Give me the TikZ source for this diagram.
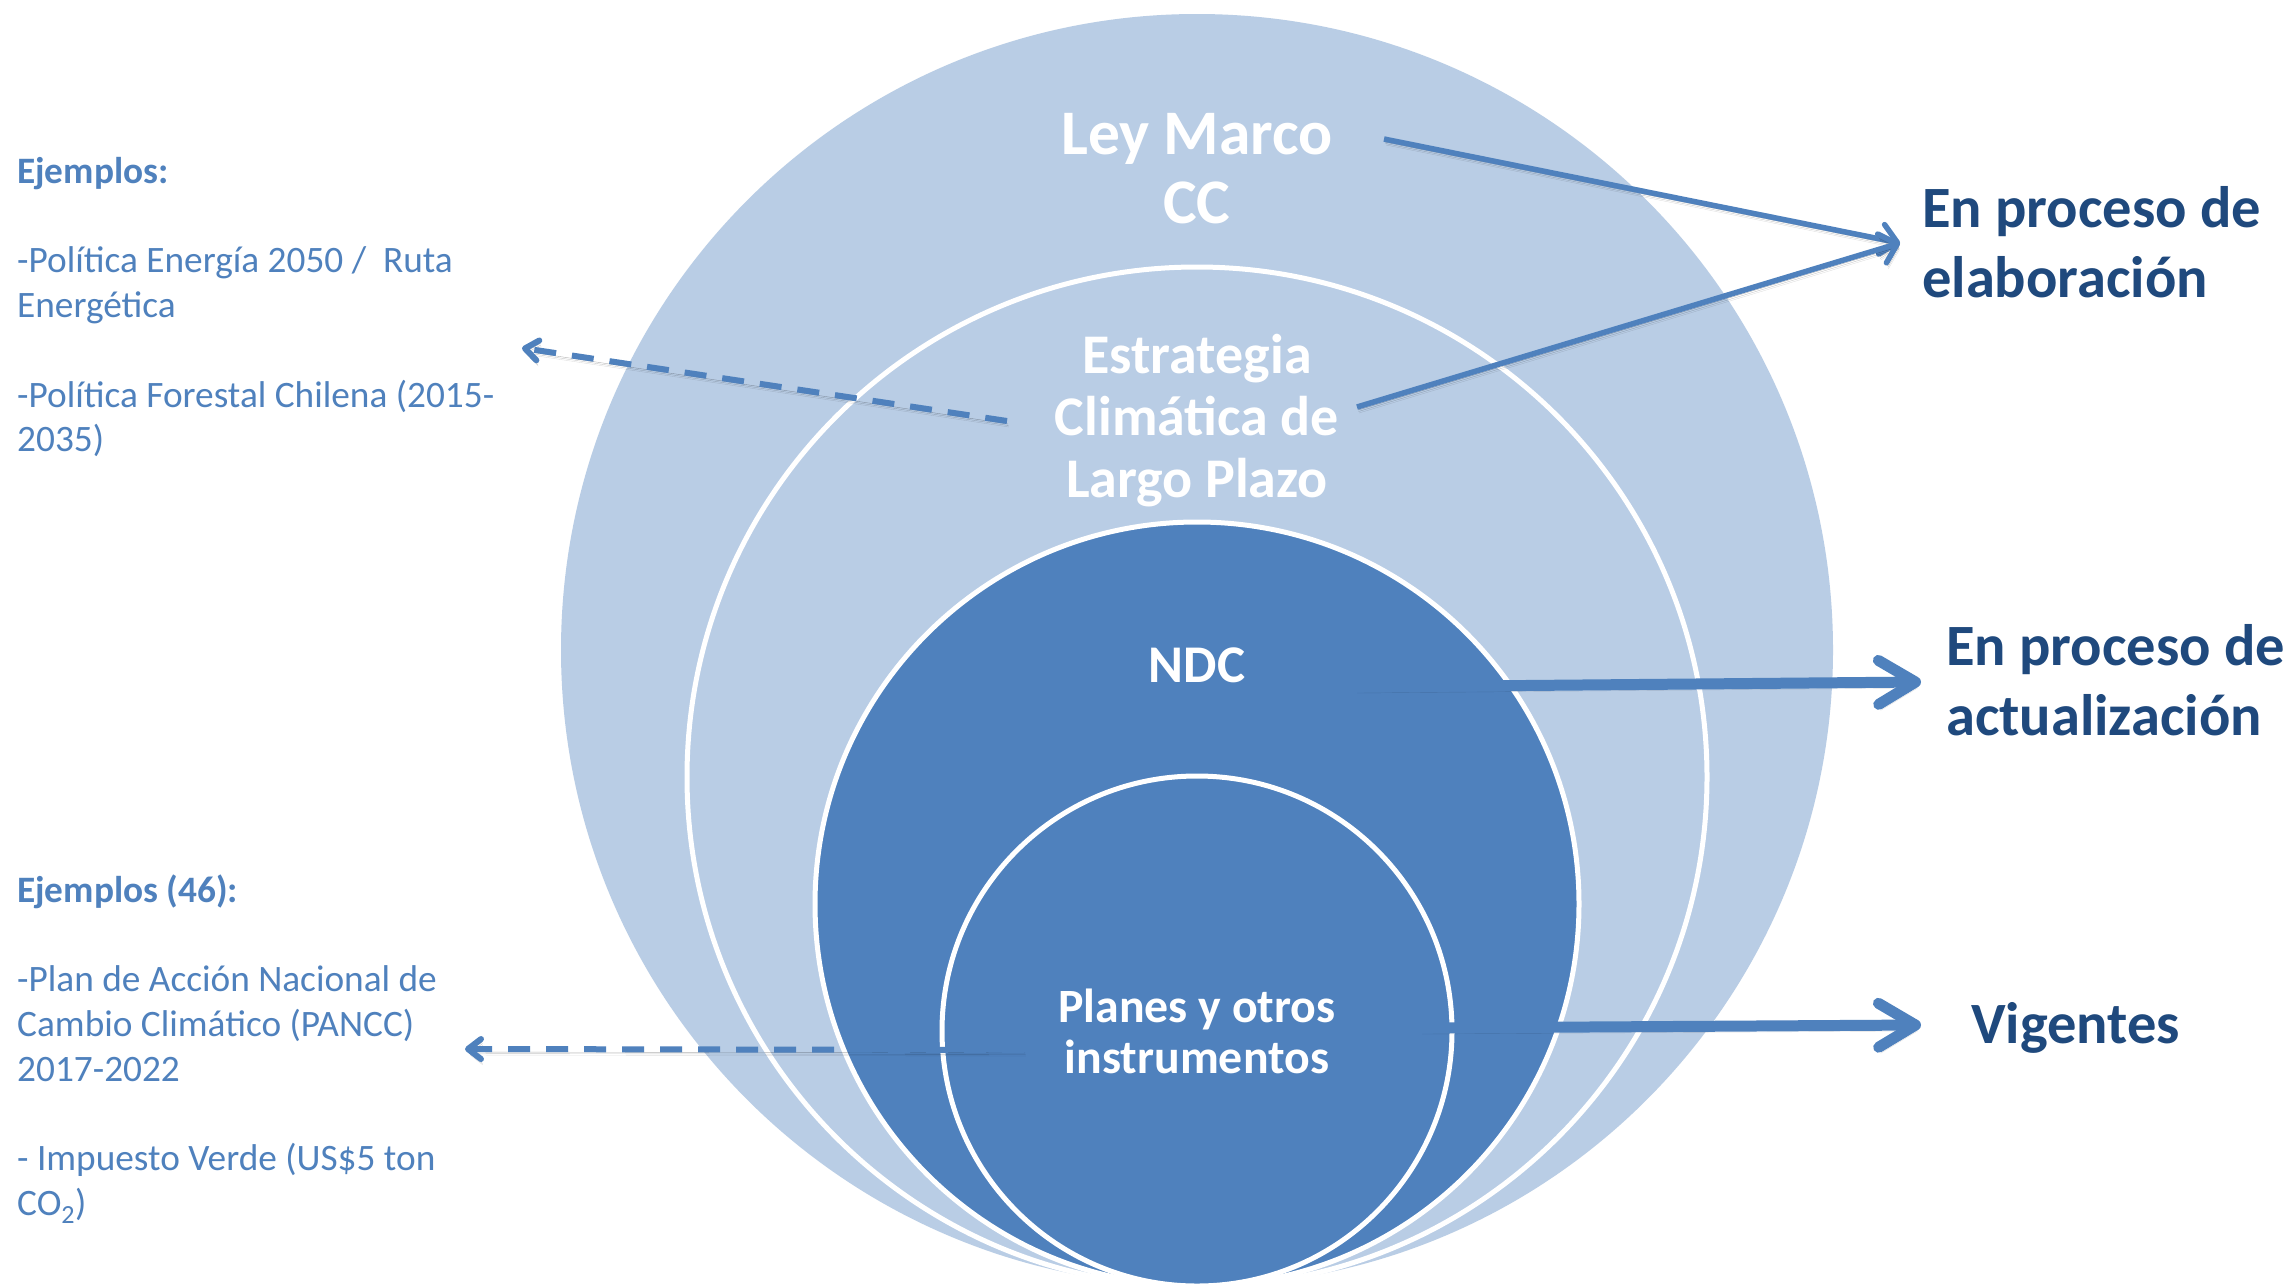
\documentclass[tikz,border=0pt]{standalone}
\usepackage{fontspec}
\setmainfont{Carlito}
\usetikzlibrary{arrows.meta}
\definecolor{lightblue}{HTML}{B9CDE5}
\definecolor{midblue}{HTML}{4F81BD}
\definecolor{navy}{HTML}{1F497D}
\begin{document}
\begin{tikzpicture}[x=1pt,y=-1pt,
  ring/.style={circle, draw=white, line width=5pt, inner sep=0pt, outer sep=0pt},
  intext/.style={text=white, inner sep=0pt, anchor=base},
  sidetext/.style={text=midblue, inner sep=0pt, anchor=base west, font=\fontsize{37.3}{44.8}\selectfont},
  status/.style={text=navy, font=\bfseries\fontsize{58.5}{70}\selectfont, inner sep=0pt, anchor=base west},
  shadowed/.style={
    preaction={draw=black, draw opacity=0.12, transform canvas={shift={(2pt,-6pt)}}},
    preaction={draw=black, draw opacity=0.22, transform canvas={shift={(1.5pt,-4.5pt)}}},
    preaction={draw=black, draw opacity=0.3, transform canvas={shift={(1pt,-3pt)}}}},
  bigarrow/.style={draw=midblue, line width=11pt, shadowed, -{Straight Barb[length=37pt,width=44pt,round]}},
  thinarrow/.style={draw=midblue, line width=5.5pt, shadowed, -{Straight Barb[length=16pt,width=30pt,round]}},
  dasharrow/.style={draw=midblue, line width=6pt, shadowed, dash pattern=on 22pt off 16pt, -{Straight Barb[length=13pt,width=20pt,round]}},
]
\useasboundingbox (0,0) rectangle (2288,1285);
\fill[white] (0,0) rectangle (2288,1285);

% nested circles
\node[ring, fill=lightblue, draw=none, minimum size=1272pt] (cley) at (1197,650) {};
\node[ring, fill=lightblue, minimum size=1020pt] (cecl) at (1197,777) {};
\node[ring, fill=midblue, minimum size=764pt] (cndc) at (1197,904) {};
\node[ring, fill=midblue, minimum size=510pt] (cplan) at (1197,1031) {};

% connector end points
\coordinate (sLey) at (1384,139);
\coordinate (sEcl) at (1357,407);
\coordinate (tElab) at (1900,243);
\coordinate (sNdc) at (1355,687);
\coordinate (tAct) at (1921,682);
\coordinate (sPlan) at (1420,1028);
\coordinate (tVig) at (1921,1025);
\coordinate (sEclL) at (1007,421);
\coordinate (tEx1) at (522,348);
\coordinate (sPlanL) at (1024,1050);
\coordinate (tEx2) at (465,1049);

% connectors
\draw[thinarrow] (sLey) -- (tElab);
\draw[thinarrow] (sEcl) -- (tElab);
\draw[bigarrow] (sNdc) -- (tAct);
\draw[bigarrow] (sPlan) -- (tVig);
\draw[dasharrow] (sEclL) -- (tEx1);
\draw[dasharrow] (sPlanL) -- (tEx2);

% labels inside circles
\node[intext, font=\bfseries\fontsize{63.5}{69}\selectfont] (tley) at (1197,154)
  {\begin{tabular}[t]{@{}c@{}}Ley Marco\\CC\end{tabular}};
\node[intext, font=\bfseries\fontsize{56}{62}\selectfont] (tecl) at (1197,373)
  {\begin{tabular}[t]{@{}c@{}}Estrategia\\Climática de\\Largo Plazo\end{tabular}};
\node[intext, font=\bfseries\fontsize{53}{62}\selectfont] (tndc) at (1197,682) {NDC};
\node[intext, font=\bfseries\fontsize{47.8}{51}\selectfont] (tplan) at (1197,1022)
  {\begin{tabular}[t]{@{}c@{}}Planes y otros\\instrumentos\end{tabular}};

% status labels
\node[status] (elab) at (1922,227)
  {\begin{tabular}[t]{@{}l@{}}En proceso de\\elaboración\end{tabular}};
\node[status] (act) at (1946,665)
  {\begin{tabular}[t]{@{}l@{}}En proceso de\\actualización\end{tabular}};
\node[status] (vig) at (1971,1043) {Vigentes};

% example lists
\node[sidetext] (ex1) at (17,183)
  {\begin{tabular}[t]{@{}l@{}}\textbf{Ejemplos:}\\ \\-Política Energía 2050 /~ Ruta\\Energética\\ \\-Política Forestal Chilena (2015-\\2035)\end{tabular}};
\node[sidetext] (ex2) at (17,902)
  {\begin{tabular}[t]{@{}l@{}}\textbf{Ejemplos (46):}\\ \\-Plan de Acción Nacional de\\Cambio Climático (PANCC)\\2017-2022\\ \\- Impuesto Verde (US\$5 ton\\CO\textsubscript{2})\end{tabular}};
\end{tikzpicture}
\end{document}
